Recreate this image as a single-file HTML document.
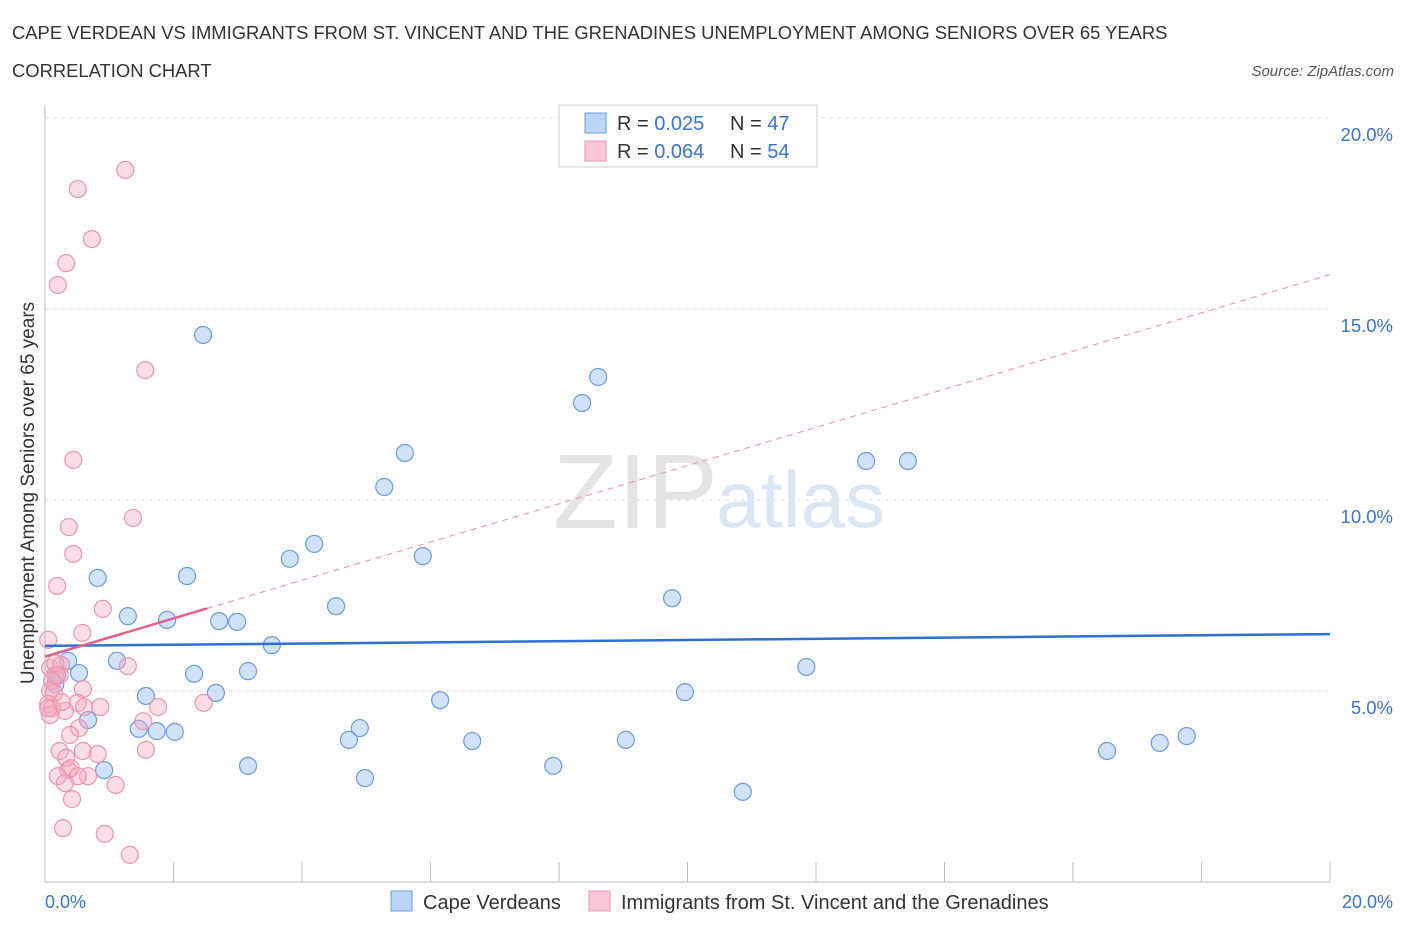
<!DOCTYPE html>
<html><head><meta charset="utf-8"><style>
body{margin:0;background:#fff;font-family:"Liberation Sans",sans-serif;}
svg text{font-family:"Liberation Sans",sans-serif;}
</style></head><body>
<svg width="1406" height="930" xmlns="http://www.w3.org/2000/svg">
<text x="12" y="39" font-size="18.4" fill="#333">CAPE VERDEAN VS IMMIGRANTS FROM ST. VINCENT AND THE GRENADINES UNEMPLOYMENT AMONG SENIORS OVER 65 YEARS</text>
<text x="12" y="77" font-size="18.4" fill="#333">CORRELATION CHART</text>
<text x="1394" y="76" font-size="15" fill="#555" font-style="italic" text-anchor="end">Source: ZipAtlas.com</text>
<g id="grid"></g>
<text x="553" y="528" font-size="106" fill="#e4e4e4" font-family="Liberation Serif">ZIP</text>
<text x="716" y="527" font-size="80" fill="#dbe6f5">atlas</text>
<g id="marks"></g>
<g id="trends"></g>
<text transform="translate(34,493) rotate(-90)" font-size="19" fill="#333" text-anchor="middle">Unemployment Among Seniors over 65 years</text>
<text x="45" y="908" font-size="18" fill="#3a73d1">0.0%</text>
<text x="1393" y="908" font-size="18" fill="#3a73d1" text-anchor="end">20.0%</text>
<g>
<rect x="559" y="105" width="258" height="62" fill="#fff" stroke="#ccc"/>
<rect x="585" y="113" width="21" height="20" fill="#bcd4f5" stroke="#6c9be0"/>
<rect x="585" y="141" width="21" height="20" fill="#f8c6d4" stroke="#ec95ae"/>
<text x="617" y="130" font-size="20" fill="#333">R = <tspan fill="#3a73d1">0.025</tspan></text>
<text x="730" y="130" font-size="20" fill="#333">N = <tspan fill="#3a73d1">47</tspan></text>
<text x="617" y="158" font-size="20" fill="#333">R = <tspan fill="#3a73d1">0.064</tspan></text>
<text x="730" y="158" font-size="20" fill="#333">N = <tspan fill="#3a73d1">54</tspan></text>
</g>
<g>
<rect x="391" y="891" width="21" height="20" fill="#bcd4f5" stroke="#6c9be0"/>
<text x="423" y="909" font-size="20" fill="#333">Cape Verdeans</text>
<rect x="589" y="891" width="21" height="20" fill="#f8c6d4" stroke="#ec95ae"/>
<text x="621" y="909" font-size="20" fill="#333">Immigrants from St. Vincent and the Grenadines</text>
</g>
</svg>
<script>
const yTicks=[5,10,15,20];
const yTickLabels=["5.0%","10.0%","15.0%","20.0%"];
const xTicks=[0,2,4,6,8,10,12,14,16,18,20];
const blueX=[2.46,8.61,8.36,5.60,12.78,13.43,5.28,5.88,4.19,3.81,0.82,2.21,9.76,4.53,1.29,1.90,2.71,2.99,3.53,0.36,1.12,11.85,0.53,2.32,3.16,0.19,1.57,2.66,9.96,6.15,0.16,0.67,1.46,1.74,2.02,4.90,4.73,6.65,9.04,16.53,17.35,17.77,0.92,3.16,7.91,4.98,10.86];
const blueY=[14.32,13.22,12.54,11.23,11.02,11.02,10.34,8.53,8.85,8.46,7.96,8.01,7.43,7.22,6.96,6.86,6.83,6.81,6.20,5.79,5.79,5.63,5.47,5.45,5.52,5.42,4.87,4.95,4.97,4.76,5.18,4.24,4.01,3.95,3.93,4.03,3.72,3.69,3.72,3.43,3.64,3.82,2.93,3.04,3.04,2.72,2.36];
const pinkX=[1.25,0.51,0.73,0.33,0.20,1.56,0.44,1.37,0.37,0.44,0.19,0.90,0.58,0.05,0.25,1.29,0.08,0.16,0.23,0.11,0.59,0.08,0.14,0.05,0.51,0.61,1.76,0.11,2.47,0.31,0.08,1.53,0.53,0.39,0.23,0.59,0.82,1.57,0.33,0.36,0.40,0.67,0.20,0.51,0.31,1.10,0.42,0.28,0.93,1.32,0.05,0.16,0.26,0.86];
const pinkY=[18.64,18.14,16.83,16.20,15.63,13.40,11.05,9.53,9.29,8.59,7.75,7.15,6.52,6.34,5.68,5.65,5.60,5.42,5.42,5.26,5.05,5.00,4.95,4.66,4.69,4.58,4.58,4.55,4.69,4.48,4.37,4.21,4.03,3.85,3.43,3.43,3.35,3.46,3.25,2.93,2.98,2.77,2.77,2.77,2.59,2.54,2.17,1.41,1.26,0.71,4.55,5.73,4.71,4.58];
const blueTrend=[6.18,6.49];
const pinkTrend=[5.9,15.9];
const pinkSolidEnd=2.52;
const NS="http://www.w3.org/2000/svg";
const X=v=>45+v*64.25, Y=v=>882-v*38.2;
function mk(t,a,p){const e=document.createElementNS(NS,t);for(const k in a)e.setAttribute(k,a[k]);p.appendChild(e);return e;}
const grid=document.getElementById('grid');
mk('line',{x1:45,y1:105,x2:45,y2:882,stroke:'#bbb'},grid);
mk('line',{x1:45,y1:882,x2:1330,y2:882,stroke:'#bbb'},grid);
yTicks.forEach((t,i)=>{
const l=mk('line',{x1:45,y1:Y(t),x2:1330,y2:Y(t),stroke:'#ddd','stroke-dasharray':'4,4'},grid);


const tx=mk('text',{x:1393,y:Y(t)+23,'font-size':18.5,fill:'#3a73d1','text-anchor':'end'},grid);
tx.textContent=yTickLabels[i];


});
xTicks.forEach(t=>{
const l=mk('line',{x1:X(t),y1:862,x2:X(t),y2:882,stroke:'#bbb'},grid);


});
const marks=document.getElementById('marks');
blueX.forEach((v,i)=>{
const c=mk('circle',{cx:X(v),cy:Y(blueY[i]),r:8.5,fill:'rgba(164,196,240,0.5)',stroke:'#6c9be0','stroke-width':1.2},marks);


});
pinkX.forEach((v,i)=>{
const c=mk('circle',{cx:X(v),cy:Y(pinkY[i]),r:8.5,fill:'rgba(244,170,190,0.4)',stroke:'#ec95ae','stroke-width':1.2},marks);


});
const tr=document.getElementById('trends');
const b=mk('line',{x1:X(0),y1:Y(blueTrend[0]),x2:X(20),y2:Y(blueTrend[1]),stroke:'#2f6fd6','stroke-width':2.5},tr);


const pAt=x=>pinkTrend[0]+(pinkTrend[1]-pinkTrend[0])*x/20;
const pd=mk('line',{x1:X(pinkSolidEnd),y1:Y(pAt(pinkSolidEnd)),x2:X(20),y2:Y(pAt(20)),stroke:'#e590aa','stroke-width':1,'stroke-dasharray':'6,5'},tr);


const ps=mk('line',{x1:X(0),y1:Y(pAt(0)),x2:X(pinkSolidEnd),y2:Y(pAt(pinkSolidEnd)),stroke:'#e2608a','stroke-width':2.5},tr);


</script>
</body></html>
